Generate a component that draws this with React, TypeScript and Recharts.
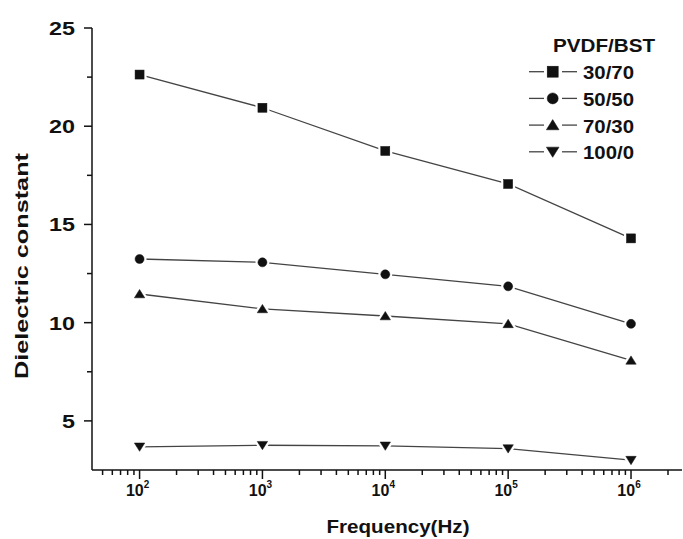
import React from 'react';
import { LineChart, Line, XAxis, YAxis, Legend } from 'recharts';

const frequencies = [100, 1000, 10000, 100000, 1000000];
const seriesNames = ['30/70', '50/50', '70/30', '100/0'];
const pvdf30 = [22.63, 20.94, 18.74, 17.06, 14.29];
const pvdf50 = [13.24, 13.07, 12.46, 11.85, 9.94];
const pvdf70 = [11.46, 10.7, 10.34, 9.94, 8.08];
const pvdf100 = [3.68, 3.76, 3.73, 3.59, 3.0];

const xTicks = [
  50, 60, 70, 80, 90,
  100, 200, 300, 400, 500, 600, 700, 800, 900,
  1000, 2000, 3000, 4000, 5000, 6000, 7000, 8000, 9000,
  10000, 20000, 30000, 40000, 50000, 60000, 70000, 80000, 90000,
  100000, 200000, 300000, 400000, 500000, 600000, 700000, 800000, 900000,
  1000000, 2000000,
];
const majorXTicks = [100, 1000, 10000, 100000, 1000000];
const xTickExponents = ['2', '3', '4', '5', '6'];
const yTicks = [5, 7.5, 10, 12.5, 15, 17.5, 20, 22.5, 25];
const yMajorTicks = [5, 10, 15, 20, 25];

const keys = ['s30', 's50', 's70', 's100'];
const shapes = ['square', 'circle', 'up', 'down'];

const data = frequencies.map((f, i) => ({
  f,
  s30: pvdf30[i],
  s50: pvdf50[i],
  s70: pvdf70[i],
  s100: pvdf100[i],
}));

const FONT = '"Liberation Sans", Arial, Helvetica, sans-serif';
const INK = '#111';
const LINE = '#444';

function shapeEl(shape: string, cx: number, cy: number, s: number, fill: string, stroke: string, sw: number) {
  const h = s / 2;
  if (shape === 'square') {
    return <rect x={cx - h} y={cy - h} width={s} height={s} fill={fill} stroke={stroke} strokeWidth={sw} />;
  }
  if (shape === 'circle') {
    return <circle cx={cx} cy={cy} r={h} fill={fill} stroke={stroke} strokeWidth={sw} />;
  }
  if (shape === 'up') {
    const w = h * 1.15;
    return (
      <polygon
        points={`${cx},${cy - h} ${cx + w},${cy + h * 0.85} ${cx - w},${cy + h * 0.85}`}
        fill={fill}
        stroke={stroke}
        strokeWidth={sw}
        strokeLinejoin="round"
      />
    );
  }
  const w = h * 1.15;
  return (
    <polygon
      points={`${cx - w},${cy - h * 0.85} ${cx + w},${cy - h * 0.85} ${cx},${cy + h}`}
      fill={fill}
      stroke={stroke}
      strokeWidth={sw}
      strokeLinejoin="round"
    />
  );
}

function Marker({ shape, cx, cy, size }: { shape: string; cx: number; cy: number; size: number }) {
  return (
    <g>
      {shapeEl(shape, cx, cy, size, '#fff', '#fff', 5)}
      {shapeEl(shape, cx, cy, size, INK, INK, 0.5)}
    </g>
  );
}

const makeDot = (shape: string) => (props: any) => {
  const { cx, cy, index } = props;
  if (cx == null || cy == null) return <g key={`d-${shape}-${index}`} />;
  return (
    <g key={`d-${shape}-${index}`}>
      <Marker shape={shape} cx={cx} cy={cy} size={9} />
    </g>
  );
};

const XTick = (props: any) => {
  const { x, y, payload } = props;
  const v = payload.value;
  const idx = majorXTicks.indexOf(v);
  const major = idx >= 0;
  return (
    <g>
      <line x1={x} x2={x} y1={y} y2={y + (major ? 9 : 5)} stroke={INK} strokeWidth={1.5} />
      {major && (
        <text x={x - 2} y={y + 26} textAnchor="middle" fontFamily={FONT} fontWeight="bold" fontSize={16} fill={INK}>
          <tspan>10</tspan>
          <tspan fontSize={10} dy={-8}>{xTickExponents[idx]}</tspan>
        </text>
      )}
    </g>
  );
};

const YTick = (props: any) => {
  const { x, y, payload } = props;
  const v = payload.value;
  const major = yMajorTicks.indexOf(v) >= 0;
  const label = String(v);
  return (
    <g>
      <line x1={x} x2={x - (major ? 8 : 5)} y1={y} y2={y} stroke={INK} strokeWidth={1.5} />
      {major && (
        <text
          x={x - 17}
          y={y}
          dy="0.36em"
          textAnchor="end"
          fontFamily={FONT}
          fontWeight="bold"
          fontSize={19}
          fill={INK}
          textLength={label.length * 13}
          lengthAdjust="spacingAndGlyphs"
        >
          {label}
        </text>
      )}
    </g>
  );
};

const XTitle = (props: any) => {
  const { viewBox } = props;
  return (
    <text
      x={viewBox.x + viewBox.width / 2 + 11}
      y={viewBox.y + 63}
      textAnchor="middle"
      fontFamily={FONT}
      fontWeight="bold"
      fontSize={19}
      fill={INK}
      textLength={143}
      lengthAdjust="spacingAndGlyphs"
    >
      Frequency(Hz)
    </text>
  );
};

const YTitle = (props: any) => {
  const { viewBox } = props;
  const bx = viewBox.x + 28;
  const cy = viewBox.y + 238;
  return (
    <text
      x={bx}
      y={cy}
      transform={`rotate(-90, ${bx}, ${cy})`}
      textAnchor="middle"
      fontFamily={FONT}
      fontWeight="bold"
      fontSize={19}
      fill={INK}
      textLength={226}
      lengthAdjust="spacingAndGlyphs"
    >
      Dielectric constant
    </text>
  );
};

const renderLegend = () => (
  <svg width={158} height={145} style={{ display: 'block' }}>
    <text x={79} y={24} textAnchor="middle" fontFamily={FONT} fontWeight="bold" fontSize={19} fill={INK} textLength={102} lengthAdjust="spacingAndGlyphs">
      PVDF/BST
    </text>
    {seriesNames.map((name, i) => {
      const cy = 43.7 + 26.7 * i;
      return (
        <g key={name}>
          <line x1={4} x2={19} y1={cy} y2={cy} stroke={LINE} strokeWidth={1.3} />
          <line x1={37} x2={52} y1={cy} y2={cy} stroke={LINE} strokeWidth={1.3} />
          {shapeEl(shapes[i], 27.7, cy, 11, INK, INK, 0.5)}
          <text x={58} y={cy + 7.5} fontFamily={FONT} fontWeight="bold" fontSize={19} fill={INK} textLength={51} lengthAdjust="spacingAndGlyphs">
            {name}
          </text>
        </g>
      );
    })}
  </svg>
);

export default function App() {
  return (
    <div style={{ position: 'absolute', left: 0, top: 0, width: 683, height: 539, background: '#fff' }}>
      <LineChart width={683} height={539} data={data} margin={{ top: 28, right: 1, left: 0, bottom: 0 }}>
        <XAxis
          dataKey="f"
          type="number"
          scale="log"
          domain={[41, 2600000]}
          allowDataOverflow
          ticks={xTicks}
          interval={0}
          tickLine={false}
          tickSize={0}
          tickMargin={0}
          height={69}
          axisLine={{ stroke: INK, strokeWidth: 1.5 }}
          tick={<XTick />}
          label={<XTitle />}
        />
        <YAxis
          type="number"
          domain={[2.5, 25]}
          allowDataOverflow
          ticks={yTicks}
          interval={0}
          tickLine={false}
          tickSize={0}
          tickMargin={0}
          width={92}
          axisLine={{ stroke: INK, strokeWidth: 1.5 }}
          tick={<YTick />}
          label={<YTitle />}
        />
        <Legend
          layout="vertical"
          align="center"
          verticalAlign="middle"
          content={renderLegend}
          wrapperStyle={{ position: 'absolute', left: 525, top: 28, width: 158, height: 145, bottom: 'auto', right: 'auto' }}
        />
        {keys.map((k, i) => (
          <Line
            key={k}
            dataKey={k}
            name={seriesNames[i]}
            stroke={LINE}
            strokeWidth={1.3}
            dot={makeDot(shapes[i])}
            activeDot={false}
            isAnimationActive={false}
          />
        ))}
      </LineChart>
    </div>
  );
}
